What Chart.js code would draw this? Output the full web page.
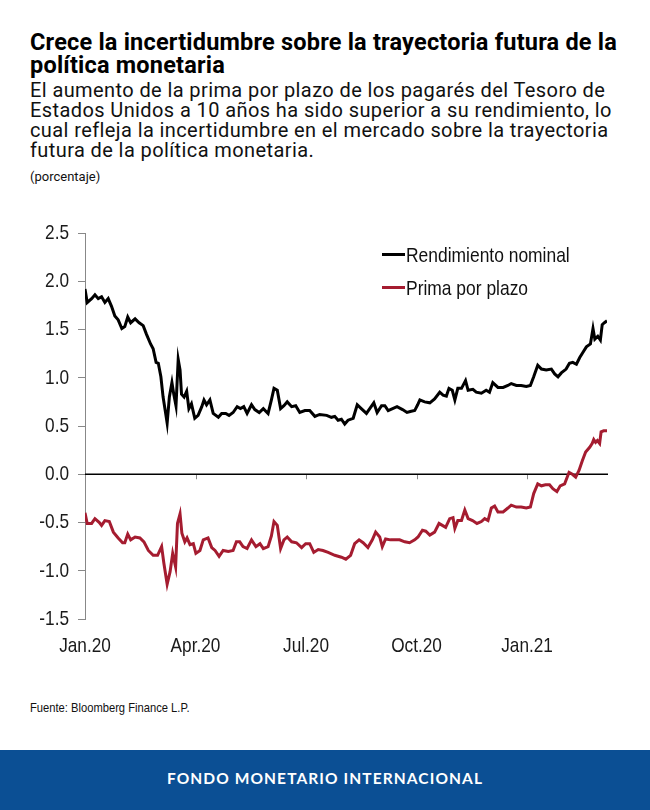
<!DOCTYPE html>
<html lang="es">
<head>
<meta charset="utf-8">
<script src="https://cdn.jsdelivr.net/npm/chart.js@4.4.1/dist/chart.umd.min.js"></script>
<style>
  html, body { margin: 0; padding: 0; background: #fff; }
  body { width: 650px; height: 810px; position: relative; overflow: hidden; font-family: Roboto, sans-serif; color: #111; }
  #title { position: absolute; left: 30px; top: 31px; width: 620px; font-weight: 700; font-size: 23.5px; line-height: 22.6px; letter-spacing: 0.2px; color: #000; white-space: nowrap; }
  #subtitle { position: absolute; left: 30px; top: 80px; width: 620px; font-size: 20px; line-height: 20.1px; letter-spacing: 0.4px; color: #111; white-space: nowrap; }
  #units { position: absolute; left: 30px; top: 169px; font-size: 13px; color: #111; }
  #chart-box { position: absolute; left: 0; top: 195px; width: 650px; height: 490px; }
  #legend { position: absolute; left: 382px; top: 238px; font-family: 'Liberation Sans', Arial, sans-serif; font-size: 21px; color: #111; }
  #legend .row { display: flex; align-items: center; height: 33px; white-space: nowrap; }
  #legend .swatch { width: 23px; height: 3px; margin-right: 1px; flex: none; }
  #legend .txt { display: inline-block; transform: scaleX(0.83); transform-origin: left center; }
  #source { position: absolute; left: 30px; top: 700px; font-family: 'Liberation Sans', Arial, sans-serif; font-size: 13px; color: #111; transform: scaleX(0.86); transform-origin: left center; white-space: nowrap; }
  #footer { position: absolute; left: 0; top: 750px; width: 650px; height: 60px; background: #0b4f94; color: #fff; text-align: center; line-height: 56px; font-family: Lato, sans-serif; font-weight: 700; font-size: 15.5px; letter-spacing: 1.1px; }
</style>
</head>
<body>
<div id="title">Crece la incertidumbre sobre la trayectoria futura de la<br>política monetaria</div>
<div id="subtitle">El aumento de la prima por plazo de los pagarés del Tesoro de<br>Estados Unidos a 10 años ha sido superior a su rendimiento, lo<br>cual refleja la incertidumbre en el mercado sobre la trayectoria<br>futura de la política monetaria.</div>
<div id="units">(porcentaje)</div>
<div id="chart-box"><canvas id="chart"></canvas></div>
<div id="legend">
  <div class="row"><span class="swatch" style="background:#000"></span><span class="txt">Rendimiento nominal</span></div>
  <div class="row"><span class="swatch" style="background:#a51c30"></span><span class="txt">Prima por plazo</span></div>
</div>
<div id="source">Fuente: Bloomberg Finance L.P.</div>
<div id="footer">FONDO MONETARIO INTERNACIONAL</div>

<script>
// x values are months since 1 Jan 2020
const quarterLabels = ['Jan.20', 'Apr.20', 'Jul.20', 'Oct.20', 'Jan.21'];

const yieldMonths = [0.00, 0.06, 0.18, 0.27, 0.36, 0.45, 0.54, 0.63, 0.72, 0.81, 0.90, 1.00, 1.08, 1.16, 1.24, 1.36, 1.47, 1.58, 1.67, 1.78,
  1.85, 1.93, 1.99, 2.06, 2.12, 2.19, 2.23, 2.29, 2.36, 2.41, 2.47, 2.53, 2.58, 2.62, 2.69, 2.76, 2.82, 2.89, 2.98, 3.07,
  3.17, 3.23, 3.30, 3.39, 3.48, 3.62, 3.71, 3.82, 3.91, 4.02, 4.13, 4.22, 4.31, 4.40, 4.52, 4.61, 4.73, 4.84, 4.97, 5.06,
  5.13, 5.22, 5.31, 5.40, 5.49, 5.61, 5.72, 5.83, 5.97, 6.10, 6.24, 6.37, 6.56, 6.69, 6.78, 6.87, 6.96, 7.05, 7.14, 7.28,
  7.39, 7.50, 7.64, 7.73, 7.84, 7.93, 8.05, 8.14, 8.23, 8.35, 8.47, 8.62, 8.74, 8.83, 8.95, 9.03, 9.09, 9.22, 9.36, 9.49,
  9.63, 9.72, 9.81, 9.88, 9.97, 10.04, 10.12, 10.22, 10.33, 10.40, 10.53, 10.62, 10.76, 10.89, 10.98, 11.07, 11.21, 11.35, 11.48, 11.57,
  11.71, 11.84, 11.98, 12.09, 12.18, 12.29, 12.39, 12.52, 12.66, 12.75, 12.84, 12.93, 13.06, 13.15, 13.24, 13.34, 13.43, 13.51, 13.61, 13.72,
  13.79, 13.84, 13.92, 13.99, 14.04, 14.10, 14.17];
const nominalYield = [1.92, 1.78, 1.82, 1.86, 1.82, 1.84, 1.78, 1.82, 1.74, 1.64, 1.60, 1.51, 1.53, 1.63, 1.57, 1.61, 1.57, 1.54, 1.45, 1.35,
  1.30, 1.16, 1.15, 1.01, 0.80, 0.63, 0.53, 0.80, 0.95, 0.83, 0.71, 1.19, 1.08, 0.83, 0.80, 0.86, 0.68, 0.73, 0.58, 0.61,
  0.70, 0.77, 0.72, 0.77, 0.63, 0.59, 0.63, 0.63, 0.61, 0.64, 0.70, 0.68, 0.70, 0.63, 0.72, 0.67, 0.64, 0.68, 0.63, 0.77,
  0.89, 0.87, 0.68, 0.71, 0.75, 0.70, 0.71, 0.64, 0.66, 0.66, 0.60, 0.62, 0.61, 0.59, 0.60, 0.56, 0.57, 0.52, 0.56, 0.58,
  0.72, 0.68, 0.63, 0.68, 0.74, 0.64, 0.71, 0.71, 0.66, 0.68, 0.70, 0.67, 0.64, 0.65, 0.66, 0.72, 0.77, 0.75, 0.74, 0.78,
  0.85, 0.82, 0.81, 0.89, 0.87, 0.77, 0.89, 0.89, 0.97, 0.87, 0.88, 0.85, 0.84, 0.87, 0.85, 0.95, 0.90, 0.90, 0.92, 0.94,
  0.92, 0.92, 0.91, 0.92, 1.01, 1.13, 1.09, 1.08, 1.09, 1.04, 1.01, 1.05, 1.09, 1.15, 1.16, 1.14, 1.21, 1.26, 1.32, 1.35,
  1.51, 1.40, 1.43, 1.39, 1.55, 1.57, 1.59];

const premiumMonths = [0.00, 0.06, 0.18, 0.27, 0.39, 0.45, 0.54, 0.66, 0.77, 0.90, 1.02, 1.08, 1.16, 1.24, 1.36, 1.49, 1.60, 1.72, 1.85, 1.97,
  2.08, 2.14, 2.23, 2.31, 2.38, 2.46, 2.51, 2.58, 2.63, 2.71, 2.77, 2.85, 2.94, 3.01, 3.12, 3.21, 3.34, 3.44, 3.53, 3.64,
  3.75, 3.89, 4.02, 4.11, 4.20, 4.29, 4.40, 4.52, 4.64, 4.75, 4.84, 4.97, 5.06, 5.13, 5.22, 5.31, 5.40, 5.49, 5.61, 5.74,
  5.88, 5.99, 6.10, 6.21, 6.33, 6.46, 6.60, 6.78, 6.96, 7.08, 7.21, 7.32, 7.44, 7.55, 7.68, 7.80, 7.89, 8.00, 8.07, 8.16,
  8.29, 8.41, 8.54, 8.68, 8.81, 8.95, 9.04, 9.16, 9.25, 9.36, 9.49, 9.61, 9.70, 9.79, 9.90, 9.99, 10.04, 10.12, 10.22, 10.31,
  10.40, 10.52, 10.64, 10.76, 10.85, 10.94, 11.03, 11.12, 11.21, 11.35, 11.48, 11.57, 11.71, 11.84, 11.98, 12.09, 12.18, 12.29, 12.39, 12.50,
  12.61, 12.70, 12.81, 12.90, 13.02, 13.14, 13.23, 13.32, 13.41, 13.50, 13.59, 13.70, 13.77, 13.81, 13.86, 13.91, 13.97, 14.01, 14.08, 14.17];
const termPremium = [-0.40, -0.51, -0.51, -0.46, -0.50, -0.53, -0.48, -0.49, -0.60, -0.66, -0.71, -0.71, -0.62, -0.68, -0.65, -0.66, -0.70, -0.79, -0.84, -0.84,
  -0.75, -0.92, -1.14, -1.01, -0.82, -0.96, -0.51, -0.41, -0.61, -0.70, -0.66, -0.73, -0.72, -0.82, -0.79, -0.68, -0.66, -0.76, -0.79, -0.85,
  -0.79, -0.80, -0.79, -0.70, -0.70, -0.75, -0.77, -0.68, -0.75, -0.72, -0.77, -0.75, -0.64, -0.49, -0.53, -0.77, -0.68, -0.65, -0.70, -0.71,
  -0.76, -0.72, -0.72, -0.81, -0.78, -0.79, -0.81, -0.84, -0.86, -0.88, -0.84, -0.72, -0.68, -0.71, -0.76, -0.68, -0.60, -0.65, -0.75, -0.67,
  -0.68, -0.68, -0.68, -0.70, -0.71, -0.68, -0.65, -0.58, -0.59, -0.63, -0.60, -0.51, -0.53, -0.55, -0.46, -0.45, -0.56, -0.48, -0.48, -0.37,
  -0.46, -0.48, -0.51, -0.49, -0.46, -0.48, -0.35, -0.33, -0.39, -0.39, -0.35, -0.32, -0.34, -0.34, -0.35, -0.34, -0.20, -0.10, -0.12, -0.11,
  -0.11, -0.15, -0.18, -0.12, -0.10, 0.02, 0.00, -0.03, 0.04, 0.14, 0.23, 0.28, 0.32, 0.36, 0.33, 0.35, 0.32, 0.44, 0.45, 0.45];

const yMin = -1.5;
const yMax = 2.5;

// no narrow font installed, so tick labels are squeezed by hand
const narrowFont = "21px 'Liberation Sans', Arial, sans-serif";
const squeeze = 0.82;

// zero line with small quarter ticks hanging from it
const zeroLine = {
    id: 'zeroLine',
    beforeDatasetsDraw(chart) {
        const ctx = chart.ctx;
        const x = chart.scales.x;
        const y0 = chart.scales.y.getPixelForValue(0);
        ctx.save();
        ctx.strokeStyle = '#888';
        ctx.lineWidth = 1;
        x.ticks.forEach(t => {
            const px = Math.round(x.getPixelForValue(t.value)) + 0.5;
            ctx.beginPath();
            ctx.moveTo(px, y0);
            ctx.lineTo(px, y0 + 5);
            ctx.stroke();
        });
        ctx.strokeStyle = '#000';
        ctx.lineWidth = 1.5;
        ctx.beginPath();
        ctx.moveTo(chart.chartArea.left, y0);
        ctx.lineTo(chart.chartArea.right + 1, y0);
        ctx.stroke();
        ctx.restore();
    }
};

const narrowTicks = {
    id: 'narrowTicks',
    afterDraw(chart) {
        const ctx = chart.ctx;
        const x = chart.scales.x;
        const y = chart.scales.y;
        ctx.save();
        ctx.font = narrowFont;
        ctx.fillStyle = '#1a1a1a';
        ctx.textBaseline = 'middle';
        y.ticks.forEach(t => {
            ctx.save();
            ctx.translate(y.right - 16, y.getPixelForValue(t.value));
            ctx.scale(squeeze, 1);
            ctx.textAlign = 'right';
            ctx.fillText(t.value.toFixed(1), 0, 0);
            ctx.restore();
        });
        x.ticks.forEach(t => {
            const label = quarterLabels[t.value / 3];
            if (!label) return;
            ctx.save();
            ctx.translate(x.getPixelForValue(t.value), x.top + 27);
            ctx.scale(squeeze, 1);
            ctx.textAlign = 'center';
            ctx.fillText(label, 0, 0);
            ctx.restore();
        });
        ctx.restore();
    }
};

const ctx = document.getElementById('chart').getContext('2d');
new Chart(ctx, {
    type: 'line',
    data: {
        datasets: [{
            label: 'Rendimiento nominal',
            data: yieldMonths.map((m, i) => ({ x: m, y: nominalYield[i] })),
            borderColor: '#000',
            borderWidth: 3,
            pointRadius: 0,
            tension: 0
        }, {
            label: 'Prima por plazo',
            data: premiumMonths.map((m, i) => ({ x: m, y: termPremium[i] })),
            borderColor: '#a51c30',
            borderWidth: 3,
            pointRadius: 0,
            tension: 0
        }]
    },
    options: {
        responsive: true,
        maintainAspectRatio: false,
        animation: false,
        layout: { padding: { top: 38, right: 43, left: 0, bottom: 0 } },
        plugins: {
            legend: { display: false },
            tooltip: { enabled: false }
        },
        scales: {
            x: {
                type: 'linear',
                min: 0,
                max: yieldMonths[yieldMonths.length - 1],
                grid: { display: false },
                border: { display: false },
                afterFit: function(scale) { scale.height = 66; },
                ticks: {
                    display: false,
                    stepSize: 3,
                    includeBounds: false,
                    autoSkip: false
                }
            },
            y: {
                min: yMin,
                max: yMax,
                afterFit: function(scale) { scale.width = 85; },
                grid: { drawOnChartArea: false, drawTicks: true, tickLength: 7, color: '#888' },
                border: { display: true, color: '#888', width: 1 },
                ticks: {
                    display: false,
                    stepSize: 0.5
                }
            }
        }
    },
    plugins: [zeroLine, narrowTicks]
});
</script>
</body>
</html>
